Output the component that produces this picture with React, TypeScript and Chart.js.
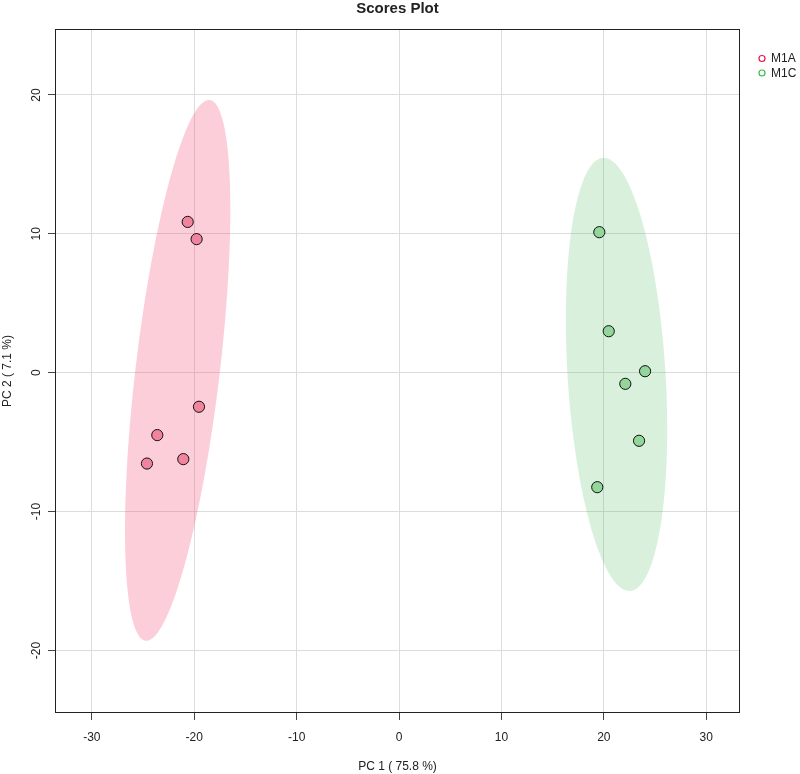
import { useEffect, useRef } from "react";
import { Chart, registerables } from "chart.js";

Chart.register(...registerables);

const groups = ["M1A", "M1C"];
const m1aX = [-20.64, -19.77, -19.54, -23.61, -24.62, -21.07];
const m1aY = [10.86, 9.62, -2.45, -4.49, -6.54, -6.22];
const m1cX = [19.56, 20.48, 24.03, 22.1, 23.44, 19.36];
const m1cY = [10.12, 2.99, 0.11, -0.8, -4.9, -8.24];
// confidence ellipse: centre x, centre y, major axis vector (dx, dy), minor axis vector (dx, dy), in data units
const m1aEllipse = [-21.62, 0.17, 3.13, 19.47, 4.08, -0.355];
const m1cEllipse = [21.24, -0.12, -1.32, 15.59, 4.77, 0.22];
const xTicks = [-30, -20, -10, 0, 10, 20, 30];
const yTicks = [-20, -10, 0, 10, 20];
const xRange = [-33.6, 33.3];
const yRange = [-24.5, 24.75];
const titleText = "Scores Plot";
const xTitle = "PC 1 ( 75.8 %)";
const yTitle = "PC 2 ( 7.1 %)";

const FONT = "'Liberation Sans', Arial, sans-serif";
const ellipseColors = ["rgba(240, 80, 120, 0.28)", "rgba(60, 180, 80, 0.2)"];
const pointColors = ["#F0849F", "#93D69B"];
const legendColors = ["#E8174D", "#3DB84A"];

const decorPlugin = {
  id: "decor",
  beforeDatasetsDraw(chart: any) {
    const { ctx, chartArea, scales } = chart;
    const xs = scales.x;
    const ys = scales.y;
    ctx.save();
    ctx.beginPath();
    ctx.rect(chartArea.left, chartArea.top, chartArea.right - chartArea.left, chartArea.bottom - chartArea.top);
    ctx.clip();
    [m1aEllipse, m1cEllipse].forEach((e, i) => {
      const [cx, cy, ax, ay, bx, by] = e;
      ctx.beginPath();
      const n = 180;
      for (let k = 0; k <= n; k++) {
        const t = (k / n) * Math.PI * 2;
        const dx = cx + ax * Math.cos(t) + bx * Math.sin(t);
        const dy = cy + ay * Math.cos(t) + by * Math.sin(t);
        const px = xs.getPixelForValue(dx);
        const py = ys.getPixelForValue(dy);
        if (k === 0) ctx.moveTo(px, py);
        else ctx.lineTo(px, py);
      }
      ctx.closePath();
      ctx.fillStyle = ellipseColors[i];
      ctx.fill();
    });
    ctx.restore();
  },
  afterDraw(chart: any) {
    const { ctx, chartArea, scales } = chart;
    const ys = scales.y;
    ctx.save();
    // box
    ctx.strokeStyle = "#222";
    ctx.lineWidth = 1;
    ctx.strokeRect(
      Math.round(chartArea.left) + 0.5,
      Math.round(chartArea.top) + 0.5,
      Math.round(chartArea.right - chartArea.left) - 1,
      Math.round(chartArea.bottom - chartArea.top) - 1
    );
    // y tick labels (rotated, R style)
    ctx.fillStyle = "#222";
    ctx.font = `12px ${FONT}`;
    ctx.textAlign = "center";
    ctx.textBaseline = "middle";
    yTicks.forEach((v) => {
      const py = ys.getPixelForValue(v);
      ctx.save();
      ctx.translate(37, py);
      ctx.rotate(-Math.PI / 2);
      ctx.fillText(String(v), 0, 0);
      ctx.restore();
    });
    // y title
    const cyMid = (chartArea.top + chartArea.bottom) / 2;
    ctx.save();
    ctx.translate(8, cyMid);
    ctx.rotate(-Math.PI / 2);
    ctx.fillText(yTitle, 0, 0);
    ctx.restore();
    // x title
    const cxMid = (chartArea.left + chartArea.right) / 2;
    ctx.fillText(xTitle, cxMid, 767);
    // main title
    ctx.font = `bold 15px ${FONT}`;
    ctx.fillText(titleText, cxMid, 9);
    // legend
    ctx.font = `12px ${FONT}`;
    ctx.textAlign = "left";
    groups.forEach((g, i) => {
      const ly = 58.5 + i * 14.5;
      ctx.beginPath();
      ctx.arc(762, ly, 3, 0, Math.PI * 2);
      ctx.strokeStyle = legendColors[i];
      ctx.lineWidth = 1.2;
      ctx.stroke();
      ctx.fillStyle = "#222";
      ctx.fillText(g, 771, ly + 0.5);
    });
    ctx.restore();
  },
};

export default function App() {
  const ref = useRef<HTMLCanvasElement | null>(null);

  useEffect(() => {
    document.body.style.margin = "0";
    if (!ref.current) return;
    const toPts = (xs: number[], ys: number[]) => xs.map((x, i) => ({ x, y: ys[i] }));
    const chart = new Chart(ref.current, {
      type: "scatter",
      data: {
        datasets: [
          {
            label: groups[0],
            data: toPts(m1aX, m1aY),
            backgroundColor: pointColors[0],
            borderColor: "#111",
            borderWidth: 1,
            pointRadius: 5.6,
            pointHoverRadius: 5.6,
          },
          {
            label: groups[1],
            data: toPts(m1cX, m1cY),
            backgroundColor: pointColors[1],
            borderColor: "#111",
            borderWidth: 1,
            pointRadius: 5.6,
            pointHoverRadius: 5.6,
          },
        ],
      },
      options: {
        responsive: false,
        animation: false,
        layout: { padding: { left: 0, right: 60, top: 29, bottom: 0 } },
        plugins: {
          legend: { display: false },
          title: { display: false },
          tooltip: { enabled: false },
        },
        scales: {
          x: {
            type: "linear",
            min: xRange[0],
            max: xRange[1],
            afterBuildTicks: (scale: any) => {
              scale.ticks = xTicks.map((v) => ({ value: v }));
            },
            afterFit: (scale: any) => {
              scale.height = 61;
            },
            grid: {
              color: "#DCDCDC",
              lineWidth: 1,
              tickColor: "#444",
              tickLength: 7,
            },
            border: { display: false },
            ticks: {
              color: "#222",
              font: { family: FONT, size: 12 },
              padding: 10,
              maxRotation: 0,
              autoSkip: false,
            },
          },
          y: {
            type: "linear",
            min: yRange[0],
            max: yRange[1],
            afterBuildTicks: (scale: any) => {
              scale.ticks = yTicks.map((v) => ({ value: v }));
            },
            afterFit: (scale: any) => {
              scale.width = 55;
            },
            grid: {
              color: "#DCDCDC",
              lineWidth: 1,
              tickColor: "#444",
              tickLength: 7,
            },
            border: { display: false },
            ticks: {
              color: "rgba(0,0,0,0)",
              font: { family: FONT, size: 12 },
              autoSkip: false,
            },
          },
        },
      },
      plugins: [decorPlugin],
    });
    return () => chart.destroy();
  }, []);

  return <canvas ref={ref} width={800} height={774} style={{ display: "block" }} />;
}
